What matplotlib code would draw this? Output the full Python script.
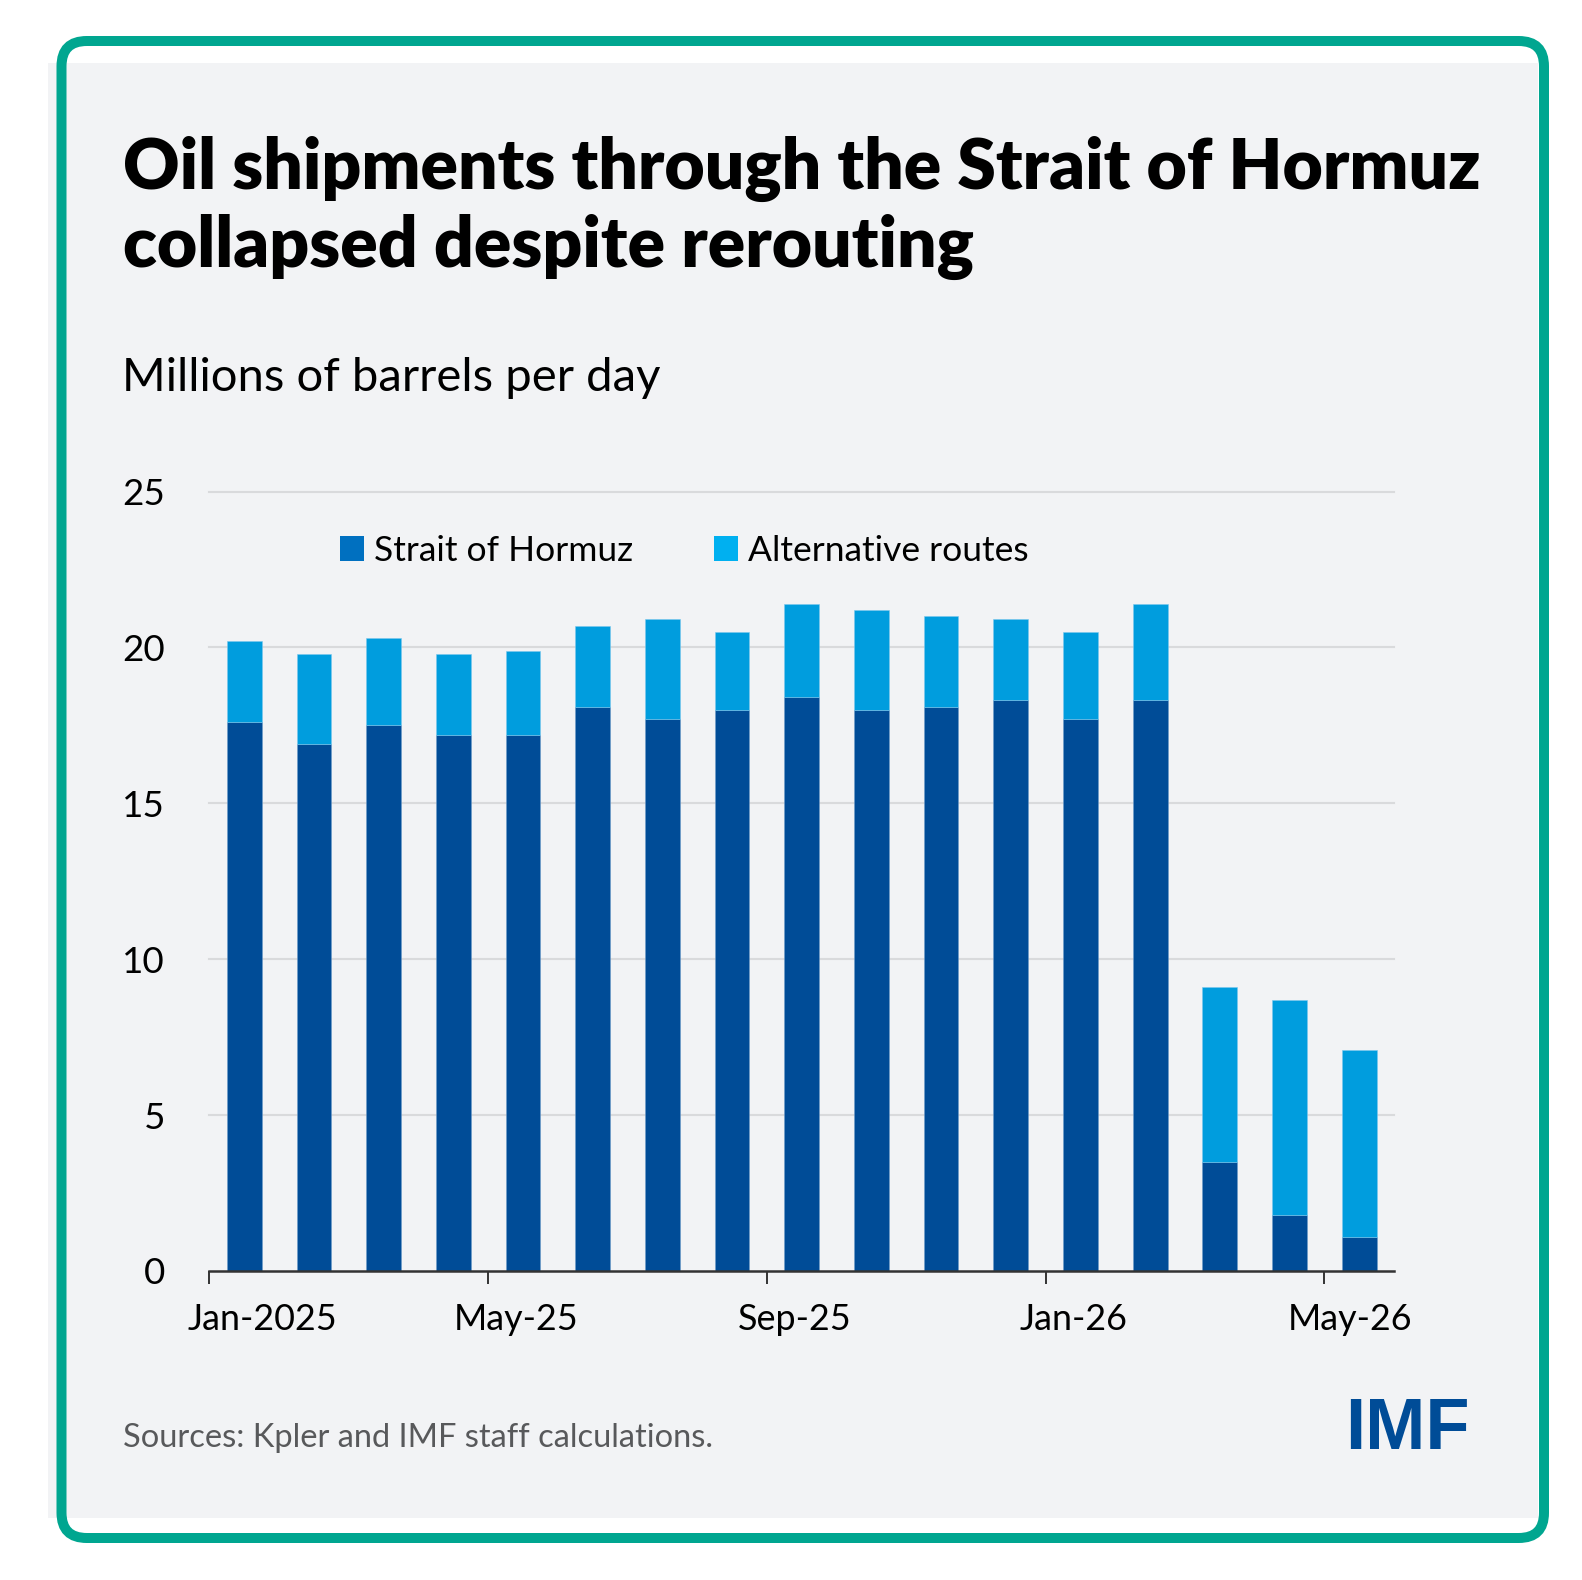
import matplotlib
matplotlib.use("Agg")
import matplotlib.pyplot as plt
import matplotlib.transforms as mtransforms
from matplotlib.patches import FancyBboxPatch, Rectangle, Patch
import numpy as np

# data (millions of barrels per day)
months = ["Jan-2025", "Feb-25", "Mar-25", "Apr-25", "May-25", "Jun-25", "Jul-25",
          "Aug-25", "Sep-25", "Oct-25", "Nov-25", "Dec-25", "Jan-26", "Feb-26",
          "Mar-26", "Apr-26", "May-26"]
hormuz = [17.6, 16.9, 17.5, 17.2, 17.2, 18.1, 17.7, 18.0, 18.4, 18.0, 18.1,
          18.3, 17.7, 18.3, 3.5, 1.8, 1.1]
alternative = [2.6, 2.9, 2.8, 2.6, 2.7, 2.6, 3.2, 2.5, 3.0, 3.2, 2.9,
               2.6, 2.8, 3.1, 5.6, 6.9, 6.0]
label_months = ["Jan-2025", "May-25", "Sep-25", "Jan-26", "May-26"]
yticks = [0, 5, 10, 15, 20, 25]

W, H = 1582, 1580
DARK = "#004C97"
LIGHT = "#009DDE"
TEAL = "#00A690"
PANEL = "#F2F3F5"

plt.rcParams['font.family'] = ['Lato', 'DejaVu Sans']


def fx(x):
    return x / W


def fy(y):
    return 1 - y / H


fig = plt.figure(figsize=(W / 100, H / 100), dpi=100)
fig.patch.set_facecolor("white")

# grey card and teal frame
fig.patches.append(Rectangle((fx(48), fy(1518)), fx(1538) - fx(48), fy(63) - fy(1518),
                             transform=fig.transFigure, facecolor=PANEL,
                             edgecolor="none", zorder=-5))
fig.patches.append(FancyBboxPatch((fx(61.5), fy(1538)), fx(1544) - fx(61.5),
                                  fy(41) - fy(1538),
                                  boxstyle="round,pad=0,rounding_size=0.016",
                                  transform=fig.transFigure, facecolor="none",
                                  edgecolor=TEAL, linewidth=7.2, zorder=5))

# titles
fig.text(fx(123), fy(189), "Oil shipments through the Strait of Hormuz",
         fontsize=50.1, fontweight="heavy", color="black", va="baseline")
fig.text(fx(123), fy(267), "collapsed despite rerouting",
         fontsize=50.1, fontweight="heavy", color="black", va="baseline")
fig.text(fx(122), fy(391), "Millions of barrels per day",
         fontsize=33.9, color="black", va="baseline")
fig.text(fx(123), fy(1447), "Sources: Kpler and IMF staff calculations.",
         fontsize=23.5, color="#58595B", va="baseline")
fig.text(fx(1470), fy(1449), "IMF", fontsize=52, fontweight="bold",
         color=DARK, ha="right", va="baseline", family="Liberation Sans")

# chart
ax = fig.add_axes([fx(209.4), fy(1271), fx(1394) - fx(209.4), fy(491.6) - fy(1271)])
ax.set_facecolor("none")
x = np.arange(len(months))
ax.bar(x, hormuz, width=0.5, color=DARK, edgecolor="#6f9cc9", linewidth=0.4, zorder=3)
ax.bar(x, alternative, width=0.5, bottom=hormuz, color=LIGHT, edgecolor="#7cc8ee",
       linewidth=0.4, zorder=3)

ax.set_xlim(-0.5, len(months) - 0.5)
ax.set_ylim(0, 25)
for v in yticks[1:]:
    ax.axhline(v, color="#D9DADC", linewidth=1.5, zorder=1, clip_on=False)

for s in ["top", "right", "left"]:
    ax.spines[s].set_visible(False)
ax.spines["bottom"].set_color("#333333")
ax.spines["bottom"].set_linewidth(1.8)
ax.spines["bottom"].set_zorder(4)

ax.set_yticks(yticks)
ax.set_yticklabels([str(v) for v in yticks], fontsize=26.5)
ax.tick_params(axis="y", length=0, pad=32)

lab_pos = [months.index(m) for m in label_months]
ax.set_xticks([p - 0.5 for p in lab_pos])
ax.set_xticklabels([])
ax.tick_params(axis="x", which="major", length=9, width=1.4, color="#333333")
ax.set_xticks(lab_pos, minor=True)
ax.set_xticklabels(label_months, minor=True, fontsize=25.8)
ax.tick_params(axis="x", which="minor", length=0, pad=23)
# nudge the month labels the way the original sits them
shifts = [18, -7, -7, -7, -9]
for lab, dx in zip(ax.get_xticklabels(minor=True), shifts):
    lab.set_transform(lab.get_transform() +
                      mtransforms.ScaledTranslation(dx / 100, 0, fig.dpi_scale_trans))

handles = [Patch(facecolor="#0070C0", label="Strait of Hormuz"),
           Patch(facecolor="#00B0F0", label="Alternative routes")]
ax.legend(handles=handles, loc="center left", bbox_to_anchor=(0.110, 0.924), ncol=2,
          frameon=False, fontsize=25.5, handlelength=0.68, handleheight=0.68,
          handletextpad=0.28, columnspacing=2.3, borderaxespad=0, borderpad=0)

fig.savefig("out.png", dpi=100, facecolor=fig.get_facecolor())
